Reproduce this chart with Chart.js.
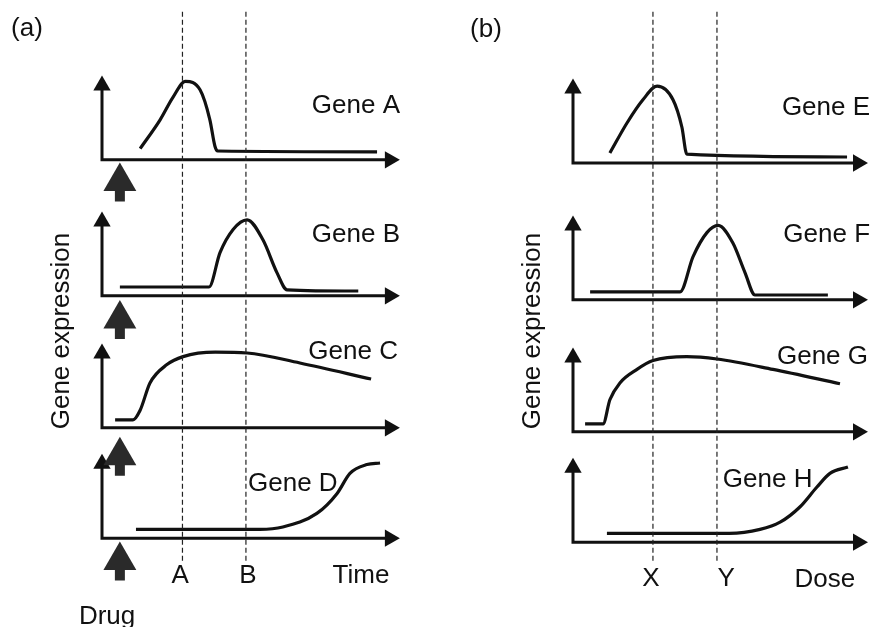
<!DOCTYPE html>
<html>
<head>
<meta charset="utf-8">
<script src="https://cdn.jsdelivr.net/npm/chart.js@4.4.0/dist/chart.umd.min.js"></script>
<style>
  body { margin: 0; background: #fff; }
  canvas { position: absolute; top: 0; }
</style>
</head>
<body>
<canvas id="painelA" width="436" height="627" style="left:0"></canvas>
<canvas id="painelB" width="436" height="627" style="left:436px"></canvas>
<script>
// ---- Painel (a): expressão dos genes ao longo do tempo ----
const tempoGeneA = [1.28, 1.95, 2.38, 2.80, 3.29, 3.62, 3.79, 3.88, 9.23];
const exprGeneA  = [0.14, 0.50, 0.78, 0.98, 0.875, 0.50, 0.17, 0.11, 0.10];
const tempoGeneB = [0.60, 3.59, 3.96, 4.40, 4.87, 5.40, 5.87, 6.21, 8.60];
const exprGeneB  = [0.11, 0.11, 0.54, 0.83, 0.95, 0.70, 0.29, 0.075, 0.06];
const tempoGeneC = [0.44, 1.04, 1.28, 1.61, 2.18, 2.72, 3.80, 4.87, 6.64, 9.03];
const exprGeneC  = [0.10, 0.10, 0.22, 0.56, 0.79, 0.89, 0.945, 0.935, 0.81, 0.61];
const tempoGeneD = [1.14, 5.30, 6.07, 7.21, 7.89, 8.32, 8.89, 9.33];
const exprGeneD  = [0.11, 0.11, 0.14, 0.31, 0.56, 0.81, 0.92, 0.94];
const marcasTempo = [2.70, 4.83];          // instantes A e B
const rotulosTempo = ['A', 'B'];
const tempoDroga = 0.6;                    // momento em que a droga é aplicada

// ---- Painel (b): expressão dos genes em função da dose ----
const doseGeneE = [1.25, 1.83, 2.37, 2.85, 3.39, 3.69, 3.86, 9.29];
const exprGeneE = [0.125, 0.50, 0.79, 0.96, 0.79, 0.45, 0.11, 0.075];
const doseGeneF = [0.58, 3.63, 4.07, 4.54, 4.92, 5.42, 5.83, 6.17, 8.64];
const exprGeneF = [0.10, 0.10, 0.54, 0.84, 0.93, 0.71, 0.34, 0.06, 0.06];
const doseGeneG = [0.41, 1.02, 1.25, 1.59, 2.17, 2.71, 3.86, 4.88, 6.78, 9.05];
const exprGeneG = [0.10, 0.10, 0.40, 0.61, 0.78, 0.89, 0.94, 0.91, 0.78, 0.60];
const doseGeneH = [1.15, 5.30, 6.34, 7.02, 7.69, 8.27, 8.71, 9.32];
const exprGeneH = [0.11, 0.11, 0.16, 0.25, 0.44, 0.69, 0.86, 0.94];
const marcasDose = [2.71, 4.88];           // doses X e Y
const rotulosDose = ['X', 'Y'];

// ---- layout (posições das faixas, não são dados) ----
const Y_MAX = 627 / 80;                    // 1 unidade de expressão = 80 px
const basesA = [5.84, 4.14, 2.49, 1.11];   // linha de base de cada gene no painel (a)
const basesB = [5.80, 4.09, 2.44, 1.06];
const quedaDroga = [0.27, 0.29, 0.35, 0.28]; // distância da seta "Drug" abaixo do eixo
const COR = '#111';
const FONTE = '26px "Liberation Sans", Arial, sans-serif';

function pontos(xs, ys, base) {
  return xs.map((x, i) => ({ x: x, y: base + ys[i] }));
}

function curva(xs, ys, base) {
  return {
    data: pontos(xs, ys, base),
    borderColor: COR, borderWidth: 3.2, pointRadius: 0,
    cubicInterpolationMode: 'monotone', borderCapStyle: 'butt'
  };
}

// eixos com setas: vertical e horizontal
function eixos(base) {
  return {
    data: [{ x: 0, y: base + 0.93 }, { x: 0, y: base }, { x: 9.66, y: base }],
    borderColor: COR, borderWidth: 3, borderJoinStyle: 'miter',
    pointStyle: 'triangle', pointRadius: [10, 0, 10], pointRotation: [0, 0, 90],
    pointBackgroundColor: COR, pointBorderWidth: 0, tension: 0
  };
}

function tracejada(x) {
  return {
    data: [{ x: x, y: 7.69 }, { x: x, y: 0.81 }],
    borderColor: '#222', borderWidth: 1.2, borderDash: [5, 3], pointRadius: 0
  };
}

function setaDroga(base, queda) {
  return [
    { data: [{ x: tempoDroga, y: base - queda }], showLine: false,
      pointStyle: 'triangle', pointRadius: 19, pointBackgroundColor: '#2a2a2a', pointBorderWidth: 0 },
    { data: [{ x: tempoDroga, y: base - queda - 0.11 }, { x: tempoDroga, y: base - queda - 0.25 }],
      borderColor: '#2a2a2a', borderWidth: 10, borderCapStyle: 'butt', pointRadius: 0 }
  ];
}

function criarPainel(id, padEsq, padDir, conjuntos, rotulos) {
  const pluginRotulos = {
    id: 'rotulos',
    afterDatasetsDraw(chart) {
      const ctx = chart.ctx, sx = chart.scales.x, sy = chart.scales.y;
      ctx.save();
      ctx.fillStyle = COR;
      ctx.font = FONTE;
      ctx.textBaseline = 'middle';
      rotulos.forEach(r => {
        ctx.save();
        ctx.translate(sx.getPixelForValue(r.x), sy.getPixelForValue(r.y));
        if (r.rot) ctx.rotate(r.rot * Math.PI / 180);
        ctx.textAlign = r.alinha || 'center';
        ctx.fillText(r.texto, 0, 0);
        ctx.restore();
      });
      ctx.restore();
    }
  };
  return new Chart(document.getElementById(id), {
    type: 'line',
    data: { datasets: conjuntos },
    options: {
      responsive: false, animation: false, events: [],
      layout: { autoPadding: false, padding: { left: padEsq, right: padDir, top: 0, bottom: 0 } },
      datasets: { line: { clip: false } },
      plugins: { legend: { display: false }, tooltip: { enabled: false } },
      scales: {
        x: { type: 'linear', min: 0, max: 10, display: false },
        y: { type: 'linear', min: 0, max: Y_MAX, display: false }
      }
    },
    plugins: [pluginRotulos]
  });
}

// ---- painel (a) ----
const conjuntosA = [];
marcasTempo.forEach(m => conjuntosA.push(tracejada(m)));
basesA.forEach((b, i) => {
  conjuntosA.push(eixos(b));
  setaDroga(b, quedaDroga[i]).forEach(d => conjuntosA.push(d));
});
conjuntosA.push(curva(tempoGeneA, exprGeneA, basesA[0]));
conjuntosA.push(curva(tempoGeneB, exprGeneB, basesA[1]));
conjuntosA.push(curva(tempoGeneC, exprGeneC, basesA[2]));
conjuntosA.push(curva(tempoGeneD, exprGeneD, basesA[3]));

criarPainel('painelA', 102, 36, conjuntosA, [
  { texto: '(a)', x: -2.52, y: 7.475 },
  { texto: 'Gene A', x: 10, y: 6.52, alinha: 'right' },
  { texto: 'Gene B', x: 10, y: 4.90, alinha: 'right' },
  { texto: 'Gene C', x: 9.93, y: 3.44, alinha: 'right' },
  { texto: 'Gene D', x: 4.90, y: 1.79, alinha: 'left' },
  { texto: rotulosTempo[0], x: 2.62, y: 0.64 },
  { texto: rotulosTempo[1], x: 4.90, y: 0.64 },
  { texto: 'Time', x: 8.69, y: 0.64 },
  { texto: 'Drug', x: 0.17, y: 0.125 },
  { texto: 'Gene expression', x: -1.34, y: 3.70, rot: -90 }
]);

// ---- painel (b) ----
const conjuntosB = [];
marcasDose.forEach(m => conjuntosB.push(tracejada(m)));
basesB.forEach(b => conjuntosB.push(eixos(b)));
conjuntosB.push(curva(doseGeneE, exprGeneE, basesB[0]));
conjuntosB.push(curva(doseGeneF, exprGeneF, basesB[1]));
conjuntosB.push(curva(doseGeneG, exprGeneG, basesB[2]));
conjuntosB.push(curva(doseGeneH, exprGeneH, basesB[3]));

criarPainel('painelB', 137, 4, conjuntosB, [
  { texto: '(b)', x: -2.95, y: 7.46 },
  { texto: 'Gene E', x: 10.07, y: 6.49, alinha: 'right' },
  { texto: 'Gene F', x: 10.07, y: 4.90, alinha: 'right' },
  { texto: 'Gene G', x: 10.0, y: 3.375, alinha: 'right' },
  { texto: 'Gene H', x: 5.08, y: 1.84, alinha: 'left' },
  { texto: rotulosDose[0], x: 2.64, y: 0.60 },
  { texto: rotulosDose[1], x: 5.19, y: 0.60 },
  { texto: 'Dose', x: 8.54, y: 0.59 },
  { texto: 'Gene expression', x: -1.36, y: 3.70, rot: -90 }
]);
</script>
</body>
</html>
